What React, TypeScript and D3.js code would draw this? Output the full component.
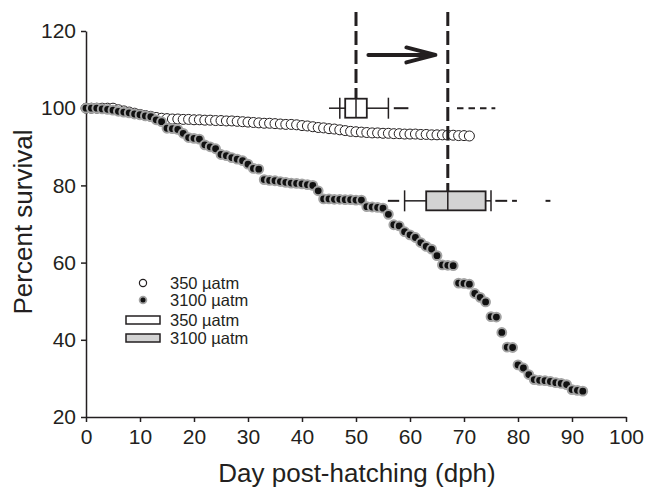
import React, { useEffect, useRef } from 'react';
import * as d3 from 'd3';

// survival (%) by day post-hatching, one value per day starting at 0
const survival350 = [
  100, 100, 100, 100, 100, 100, 99.6, 99.3, 99, 98.7, 98.4, 98.1, 97.9, 97.6, 97.4, 97.3,
  97.2, 97.2, 97.1, 97.1, 97, 97, 96.9, 96.9, 96.8, 96.8, 96.7, 96.7, 96.6, 96.5, 96.4, 96.3,
  96.2, 96.1, 96.1, 96, 95.9, 95.8, 95.8, 95.7, 95.5, 95.4, 95.2, 95, 94.9, 94.7, 94.6, 94.4,
  94.2, 94, 93.9, 93.8, 93.7, 93.6, 93.6, 93.5, 93.5, 93.4, 93.4, 93.3, 93.3, 93.3, 93.2, 93.2,
  93.1, 93.1, 93.1, 93, 93, 92.9, 92.9, 92.8,
];
const survival3100 = [
  100, 100, 100, 99.8, 99.7, 99.5, 99.2, 99, 98.8, 98.5, 98.3, 98, 97.8, 97, 96.5, 94.8,
  94.7, 94.5, 93.5, 92.4, 92.2, 92, 90.5, 90, 89.5, 88, 87.7, 87.2, 86.8, 86.4, 85.5, 84.4,
  84.2, 81.5, 81.3, 81.2, 81, 80.8, 80.6, 80.5, 80.4, 80.2, 80, 78.6, 76.5, 76.5, 76.4, 76.4,
  76.3, 76.3, 76.2, 76.2, 74.5, 74.4, 74.3, 74.1, 72.5, 69.8, 69.5, 68, 67.2, 66.5, 65.2, 64.2,
  63.5, 61.8, 59.4, 59.3, 59.2, 54.7, 54.6, 54.4, 52, 51, 49.8, 46, 45.9, 41.9, 38.1, 38,
  33.5, 32.7, 31, 29.7, 29.5, 29.4, 29.2, 28.9, 28.7, 28.4, 27.1, 26.9, 26.7,
];

const xTicks = [0, 10, 20, 30, 40, 50, 60, 70, 80, 90, 100];
const yTicks = [20, 40, 60, 80, 100, 120];
const legendLabels = ['350 µatm', '3100 µatm', '350 µatm', '3100 µatm'];

// box plots (days post-hatching), row 0 = 350 µatm, row 1 = 3100 µatm
const boxLevel = [100, 76];
const boxWhiskerLo = [47, 59];
const boxQ1 = [48, 63];
const boxMedian = [50, 67];
const boxQ3 = [52, 74];
const boxWhiskerHi = [56, 75];
const boxFill = ['#ffffff', '#d3d3d3'];
// short extra strokes beside the whiskers
const tails350 = [[45, 47], [57, 59.7]];
const tails3100 = [[55.9, 58], [75.8, 78], [78.9, 79.8], [85.1, 86]];
const dottedTail350 = [68.7, 75.8];
// shift of the median, drawn as an arrow
const shiftFrom = 52.3;
const shiftTo = 64.7;
const shiftLevel = 113.8;

export default function App() {
  const ref = useRef(null);
  const width = 647;
  const height = 493;

  useEffect(() => {
    const svg = d3.select(ref.current);
    svg.selectAll('*').remove();

    const ink = '#231f20';
    const font = "'Liberation Sans', Arial, sans-serif";

    const x = d3.scaleLinear().domain([0, 100]).range([86, 626]);
    const y = d3.scaleLinear().domain([20, 120]).range([417, 31]);

    // ---------- axes ----------
    const gx = svg.append('g')
      .attr('transform', `translate(0,${y(20)})`)
      .call(d3.axisBottom(x).tickValues(xTicks).tickSize(5).tickSizeOuter(0).tickPadding(7));
    const gy = svg.append('g')
      .attr('transform', `translate(${x(0)},0)`)
      .call(d3.axisLeft(y).tickValues(yTicks).tickSize(5).tickSizeOuter(0).tickPadding(5));

    [gx, gy].forEach(g => {
      g.select('.domain').attr('stroke', ink).attr('stroke-width', 1.5);
      g.selectAll('.tick line').attr('stroke', ink).attr('stroke-width', 1.5);
      g.selectAll('.tick text')
        .attr('fill', ink)
        .style('font-family', font)
        .style('font-size', '21px');
    });

    svg.append('text')
      .attr('x', 357)
      .attr('y', 482)
      .attr('text-anchor', 'middle')
      .attr('fill', ink)
      .style('font-family', font)
      .style('font-size', '26px')
      .text('Day post-hatching (dph)');

    svg.append('text')
      .attr('transform', 'translate(32,222) rotate(-90)')
      .attr('text-anchor', 'middle')
      .attr('fill', ink)
      .style('font-family', font)
      .style('font-size', '26px')
      .text('Percent survival');

    // ---------- survival points ----------
    svg.append('g')
      .selectAll('circle')
      .data(survival350)
      .join('circle')
      .attr('cx', (d, i) => x(i))
      .attr('cy', d => y(d))
      .attr('r', 5)
      .attr('fill', '#fff')
      .attr('stroke', ink)
      .attr('stroke-width', 1);

    svg.append('g')
      .selectAll('circle')
      .data(survival3100)
      .join('circle')
      .attr('cx', (d, i) => x(i))
      .attr('cy', d => y(d))
      .attr('r', 4.4)
      .attr('fill', '#111')
      .attr('stroke', '#a3a3a3')
      .attr('stroke-width', 2);

    // ---------- vertical dashed medians + arrow ----------
    const boxHalf = 9.5;
    svg.append('g')
      .selectAll('line')
      .data(boxMedian)
      .join('line')
      .attr('x1', d => x(d))
      .attr('x2', d => x(d))
      .attr('y1', 12)
      .attr('y2', (d, i) => y(boxLevel[i]) - boxHalf)
      .attr('stroke', ink)
      .attr('stroke-width', 3)
      .attr('stroke-dasharray', '14 5');

    const arrow = svg.append('g')
      .attr('stroke', ink)
      .attr('stroke-width', 4)
      .attr('stroke-linecap', 'round')
      .attr('fill', 'none');
    arrow.append('line')
      .attr('x1', x(shiftFrom)).attr('x2', x(shiftTo) - 2)
      .attr('y1', y(shiftLevel)).attr('y2', y(shiftLevel));
    arrow.append('path')
      .attr('stroke-linejoin', 'round')
      .attr('d', `M${x(shiftTo) - 29},${y(shiftLevel) - 7.5}L${x(shiftTo)},${y(shiftLevel)}L${x(shiftTo) - 29},${y(shiftLevel) + 7.5}`);

    // ---------- box plots ----------
    const boxes = svg.append('g');
    boxLevel.forEach((lv, i) => {
      const cy = y(lv);
      const g = boxes.append('g').attr('stroke', ink);
      // whiskers
      g.append('line')
        .attr('x1', x(i === 0 ? tails350[0][0] : boxWhiskerLo[i])).attr('x2', x(boxQ1[i]))
        .attr('y1', cy).attr('y2', cy).attr('stroke-width', 1.5);
      g.append('line')
        .attr('x1', x(boxQ3[i])).attr('x2', x(boxWhiskerHi[i]))
        .attr('y1', cy).attr('y2', cy).attr('stroke-width', 1.5);
      [boxWhiskerLo[i], boxWhiskerHi[i]].forEach(v => {
        g.append('line')
          .attr('x1', x(v)).attr('x2', x(v))
          .attr('y1', cy - boxHalf - 1).attr('y2', cy + boxHalf + 1)
          .attr('stroke-width', 1.5);
      });
      g.append('rect')
        .attr('x', x(boxQ1[i]))
        .attr('y', cy - boxHalf)
        .attr('width', x(boxQ3[i]) - x(boxQ1[i]))
        .attr('height', boxHalf * 2)
        .attr('fill', boxFill[i])
        .attr('stroke-width', 1.8);
      g.append('line')
        .attr('x1', x(boxMedian[i])).attr('x2', x(boxMedian[i]))
        .attr('y1', cy - boxHalf).attr('y2', cy + boxHalf)
        .attr('stroke-width', 1.5);
    });

    const tailY350 = y(boxLevel[0]);
    boxes.append('g')
      .selectAll('line')
      .data(tails350.slice(1))
      .join('line')
      .attr('x1', d => x(d[0])).attr('x2', d => x(d[1]))
      .attr('y1', tailY350).attr('y2', tailY350)
      .attr('stroke', ink).attr('stroke-width', 2);
    boxes.append('line')
      .attr('x1', x(dottedTail350[0])).attr('x2', x(dottedTail350[1]))
      .attr('y1', tailY350).attr('y2', tailY350)
      .attr('stroke', ink).attr('stroke-width', 2)
      .attr('stroke-dasharray', '6.5 5');

    const tailY3100 = y(boxLevel[1]);
    boxes.append('g')
      .selectAll('line')
      .data(tails3100)
      .join('line')
      .attr('x1', d => x(d[0])).attr('x2', d => x(d[1]))
      .attr('y1', tailY3100).attr('y2', tailY3100)
      .attr('stroke', ink).attr('stroke-width', 2);

    // ---------- legend ----------
    const lg = svg.append('g');
    const rowY = [283, 300, 320, 338];
    lg.append('circle').attr('cx', 143).attr('cy', rowY[0]).attr('r', 3.6)
      .attr('fill', '#fff').attr('stroke', ink).attr('stroke-width', 1.2);
    lg.append('circle').attr('cx', 143).attr('cy', rowY[1]).attr('r', 3.4)
      .attr('fill', '#111').attr('stroke', '#a3a3a3').attr('stroke-width', 1.8);
    [2, 3].forEach(k => {
      lg.append('rect')
        .attr('x', 126).attr('y', rowY[k] - 4)
        .attr('width', 34).attr('height', 8)
        .attr('fill', boxFill[k - 2])
        .attr('stroke', ink).attr('stroke-width', 1.5);
    });
    lg.selectAll('text')
      .data(legendLabels)
      .join('text')
      .attr('x', 170)
      .attr('y', (d, i) => rowY[i])
      .attr('dy', '0.35em')
      .attr('fill', ink)
      .style('font-family', font)
      .style('font-size', '16.5px')
      .text(d => d);
  }, []);

  return (
    <svg
      ref={ref}
      width={width}
      height={height}
      style={{ position: 'absolute', left: 0, top: 0, background: '#fff' }}
    />
  );
}
